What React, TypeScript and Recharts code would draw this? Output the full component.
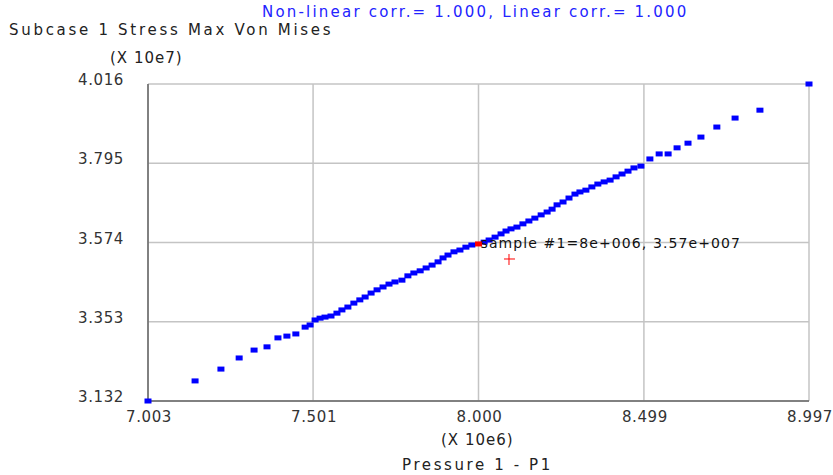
import {
  ScatterChart,
  Scatter,
  XAxis,
  YAxis,
  CartesianGrid,
  ReferenceDot,
} from "recharts";

// Pressure 1 - P1 (x 10e6)
const pressure = [
  7.003, 7.145, 7.223, 7.278, 7.323, 7.362, 7.395, 7.422, 7.449, 7.477,
  7.492, 7.507, 7.522, 7.537, 7.555, 7.573, 7.588, 7.606, 7.624, 7.642,
  7.658, 7.676, 7.694, 7.712, 7.73, 7.748, 7.769, 7.787, 7.805, 7.824,
  7.842, 7.86, 7.878, 7.893, 7.908, 7.926, 7.944, 7.962, 7.98, 8.017,
  8.032, 8.05, 8.068, 8.083, 8.098, 8.116, 8.134, 8.152, 8.17, 8.189,
  8.207, 8.222, 8.237, 8.255, 8.273, 8.291, 8.306, 8.324, 8.342, 8.36,
  8.379, 8.397, 8.415, 8.433, 8.451, 8.469, 8.49, 8.517, 8.545, 8.572,
  8.599, 8.632, 8.671, 8.719, 8.774, 8.849, 8.997,
];

// Subcase 1 Stress Max Von Mises (x 10e7)
const stress = [
  3.132, 3.188, 3.221, 3.252, 3.274, 3.283, 3.308, 3.313, 3.319, 3.338,
  3.344, 3.358, 3.363, 3.366, 3.369, 3.377, 3.386, 3.394, 3.405, 3.414,
  3.422, 3.433, 3.442, 3.45, 3.458, 3.464, 3.469, 3.481, 3.489, 3.495,
  3.503, 3.511, 3.52, 3.531, 3.539, 3.548, 3.553, 3.561, 3.567, 3.575,
  3.581, 3.589, 3.598, 3.606, 3.612, 3.617, 3.626, 3.634, 3.642, 3.651,
  3.659, 3.667, 3.679, 3.687, 3.698, 3.709, 3.715, 3.72, 3.729, 3.737,
  3.743, 3.748, 3.757, 3.765, 3.773, 3.782, 3.787, 3.807, 3.821, 3.821,
  3.838, 3.851, 3.868, 3.896, 3.921, 3.943, 4.016,
];

const sample = [{ x: 8.0, y: 3.57 }];
const cursor = { x: 8.092, y: 3.528 };

const xTicks = [7.003, 7.501, 8.0, 8.499, 8.997];
const yTicks = [3.132, 3.353, 3.574, 3.795, 4.016];

const points = pressure.map((x, i) => ({ x, y: stress[i] }));

const FONT = "DejaVu Sans";

const BlueSquare = (props: any) => (
  <rect x={props.cx - 3.5} y={props.cy - 2.5} width={7} height={5} fill="#0000ff" />
);

const RedSquare = (props: any) => (
  <g>
    <rect x={props.cx - 3.5} y={props.cy - 2.5} width={7} height={5} fill="#ff0000" />
    <text
      x={props.cx + 2}
      y={props.cy + 4}
      fontSize={14}
      letterSpacing={1.1}
      fontFamily={FONT}
      fill="#111"
    >
      sample #1=8e+006, 3.57e+007
    </text>
  </g>
);

const Cross = (props: any) => (
  <g stroke="#ff0000" strokeWidth={1}>
    <line x1={props.cx - 5} y1={props.cy} x2={props.cx + 6} y2={props.cy} />
    <line x1={props.cx} y1={props.cy - 5} x2={props.cx} y2={props.cy + 6} />
  </g>
);

const XTick = (props: any) => (
  <text
    x={props.x + 1}
    y={props.y + 19}
    textAnchor="middle"
    fontSize={15}
    letterSpacing={0.6}
    fontFamily={FONT}
    fill="#333"
  >
    {props.payload.value.toFixed(3)}
  </text>
);

const YTick = (props: any) => (
  <text
    x={props.x + 1}
    y={props.y + 1}
    textAnchor="end"
    fontSize={15}
    letterSpacing={0.6}
    fontFamily={FONT}
    fill="#333"
  >
    {props.payload.value.toFixed(3)}
  </text>
);

const label = (
  left: number,
  top: number,
  spacing: number,
  color = "#222"
): React.CSSProperties => ({
  position: "absolute",
  left,
  top,
  fontFamily: FONT,
  fontSize: 15,
  letterSpacing: spacing,
  color,
  whiteSpace: "nowrap",
  lineHeight: "18px",
});

export default function App() {
  return (
    <div style={{ position: "absolute", left: 0, top: 0, width: 833, height: 475, background: "#fff" }}>
      <ScatterChart
        width={833}
        height={475}
        margin={{ top: 84, right: 24, bottom: 44, left: 0 }}
      >
        <CartesianGrid stroke="#c4c4c4" strokeWidth={1.5} />
        <XAxis
          type="number"
          dataKey="x"
          domain={[7.003, 8.997]}
          ticks={xTicks}
          tick={<XTick />}
          tickLine={false}
          tickSize={0}
          height={30}
          axisLine={{ stroke: "#666", strokeWidth: 1.5 }}
        />
        <YAxis
          type="number"
          dataKey="y"
          domain={[3.132, 4.016]}
          ticks={yTicks}
          tick={<YTick />}
          tickLine={false}
          tickSize={0}
          tickMargin={25}
          width={148}
          axisLine={{ stroke: "#666", strokeWidth: 1.5 }}
        />
        <Scatter data={points} shape={<BlueSquare />} isAnimationActive={false} />
        <Scatter data={sample} shape={<RedSquare />} isAnimationActive={false} />
        <ReferenceDot x={cursor.x} y={cursor.y} shape={<Cross />} />
      </ScatterChart>
      <div style={label(262, 3, 2.2, "#2323ff")}>Non-linear corr.= 1.000, Linear corr.= 1.000</div>
      <div style={label(9, 21, 2.7)}>Subcase 1 Stress Max Von Mises</div>
      <div style={label(110, 49, 1)}>(X 10e7)</div>
      <div style={label(441, 431, 1)}>(X 10e6)</div>
      <div style={label(402, 456, 2.6)}>Pressure 1 - P1</div>
    </div>
  );
}
